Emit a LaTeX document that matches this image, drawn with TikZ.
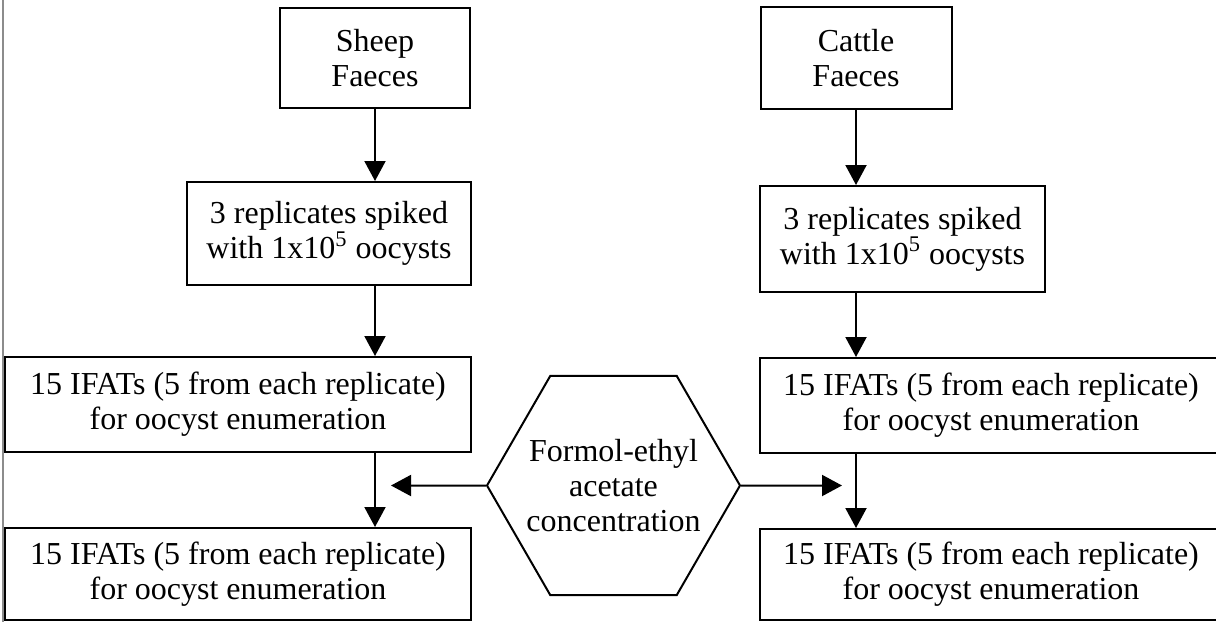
\documentclass[tikz,border=0pt]{standalone}
\usepackage{fontspec}
\setmainfont{Liberation Serif}
\usetikzlibrary{shapes.geometric,arrows.meta}

\begin{document}
\begin{tikzpicture}[x=0.5pt,y=-0.5pt,
                    box/.style={draw,line width=1pt,align=center,inner sep=0pt,font=\fontsize{16pt}{17.5pt}\selectfont},
                    hexbox/.style={box,regular polygon,regular polygon sides=6,inner sep=-30pt,minimum size=126.5pt},
                    flow/.style={line width=1pt,-{Triangle[length=10pt,width=10.5pt]}}]
                    \useasboundingbox (0,0) rectangle (1216,622);
                    \draw[black!45,line width=0.6pt] (3,0)--(3,622);

                    \node[box,minimum width=95pt,minimum height=50pt] (sheep) at (375,58) {Sheep\\Faeces};
                    \node[box,minimum width=142pt,minimum height=51.5pt] (repL) at (329,233.5) {3 replicates spiked\\with 1x10\textsuperscript{5} oocysts};
                    \node[box,minimum width=233pt,minimum height=47.5pt] (ifatL1) at (238,404.5) {15 IFATs (5 from each replicate)\\for oocyst enumeration};
                    \node[box,minimum width=233pt,minimum height=46pt] (ifatL2) at (238,574) {15 IFATs (5 from each replicate)\\for oocyst enumeration};

                    \node[box,minimum width=95.5pt,minimum height=51pt] (cattle) at (856,58) {Cattle\\Faeces};
                    \node[box,minimum width=142.5pt,minimum height=53pt] (repR) at (902.5,239) {3 replicates spiked\\with 1x10\textsuperscript{5} oocysts};
                    \node[box,minimum width=231pt,minimum height=47.5pt] (ifatR1) at (991,405.5) {15 IFATs (5 from each replicate)\\for oocyst enumeration};
                    \node[box,minimum width=231pt,minimum height=45.5pt] (ifatR2) at (991,574.5) {15 IFATs (5 from each replicate)\\for oocyst enumeration};

                    \node[hexbox] (hex) at (613.5,485.5) {Formol-ethyl\\acetate\\concentration};
                    \coordinate (tipL) at (391,485.5);
                    \coordinate (tipR) at (842,485.5);

                    \draw[flow] (sheep.south) -- (sheep.south |- repL.north);
                    \draw[flow] (sheep.south |- repL.south) -- (sheep.south |- ifatL1.north);
                    \draw[flow] (sheep.south |- ifatL1.south) -- (sheep.south |- ifatL2.north);

                    \draw[flow] (cattle.south) -- (cattle.south |- repR.north);
                    \draw[flow] (cattle.south |- repR.south) -- (cattle.south |- ifatR1.north);
                    \draw[flow] (cattle.south |- ifatR1.south) -- (cattle.south |- ifatR2.north);

                    \draw[flow] (hex.west) -- (tipL);
                    \draw[flow] (hex.east) -- (tipR);
                \end{tikzpicture}
\end{document}
